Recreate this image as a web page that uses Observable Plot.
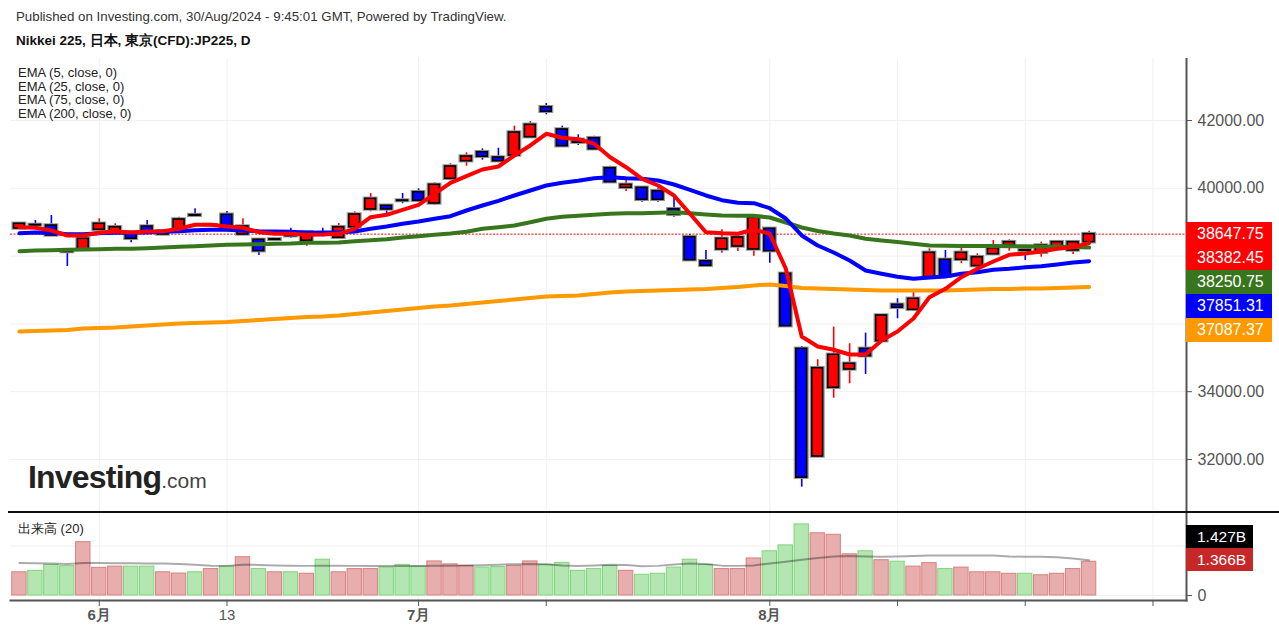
<!DOCTYPE html>
<html><head><meta charset="utf-8">
<script src="https://cdn.jsdelivr.net/npm/d3@7"></script>
<script src="https://cdn.jsdelivr.net/npm/@observablehq/plot@0.6"></script>
<style>
body{margin:0;background:#fff;}
#root{position:relative;width:1279px;height:634px;overflow:hidden;font-family:"Liberation Sans",Arial,sans-serif;color:#222;}
.abs{position:absolute;white-space:nowrap;}
.badge{position:absolute;left:1186px;width:86px;height:24px;line-height:24px;color:#fff;font-size:16px;padding-left:11px;box-sizing:border-box;}
.vbadge{position:absolute;left:1186px;width:67px;height:23px;line-height:23px;color:#fff;font-size:15.5px;padding-left:11px;box-sizing:border-box;}
</style></head><body>
<div id="root">
<div class="abs" style="left:16px;top:9px;font-size:13.3px;color:#333;">Published on Investing.com, 30/Aug/2024 - 9:45:01 GMT, Powered by TradingView.</div>
<div class="abs" style="left:16px;top:32px;font-size:13.5px;font-weight:bold;color:#111;">Nikkei 225, 日本, 東京(CFD):JP225, D</div>
<div id="price" class="abs" style="left:0;top:58px;"></div>
<div id="vol" class="abs" style="left:0;top:512px;"></div>
<div class="abs" style="left:8px;top:511px;width:1271px;height:2px;background:#111;"></div>
<div class="abs" style="left:18px;top:66px;font-size:13px;line-height:13.6px;color:#222;" id="legend"></div>
<div class="abs" style="left:18px;top:520px;font-size:13px;color:#222;">出来高 (20)</div>
<div class="abs" style="left:28px;top:459px;color:#222;"><span style="font-size:32px;font-weight:bold;letter-spacing:-0.8px;">Investing</span><span style="font-size:21px;color:#444;">.com</span></div>
<div id="badges"></div>
</div>
<script>
const dates = ["05-27","05-28","05-29","05-30","05-31","06-03","06-04","06-05","06-06","06-07","06-10","06-11","06-12","06-13","06-14","06-17","06-18","06-19","06-20","06-21","06-24","06-25","06-26","06-27","06-28","07-01","07-02","07-03","07-04","07-05","07-08","07-09","07-10","07-11","07-12","07-16","07-17","07-18","07-19","07-22","07-23","07-24","07-25","07-26","07-29","07-30","07-31","08-01","08-02","08-05","08-06","08-07","08-08","08-09","08-13","08-14","08-15","08-16","08-19","08-20","08-21","08-22","08-23","08-26","08-27","08-28","08-29","08-30"];
const open  = [38814,38920,38902,38150,38186,38776,38725,38687,38873,38637,38725,39210,38915,39218,38637,38481,38480,38687,38451,38655,38540,38852,39375,39484,39640,39885,39552,40280,40799,41065,40909,40968,41508,42392,41735,41430,41478,40593,40015,40015,39915,39384,38557,37849,38195,38283,38195,38805,37478,35265,32088,34115,34655,35265,35490,36564,36416,37360,37891,37891,37705,38056,38313,38175,38097,38244,38165,38411];
const high  = [38965,39050,39197,38215,38515,39100,38953,38700,39050,38750,39147,39395,38930,39315,39100,38490,38500,38823,38715,38823,38962,39306,39846,39495,39846,39985,40162,40723,41047,41165,41183,41832,41970,42501,41832,41578,41537,40652,40280,40030,39985,39738,38630,38165,38776,38570,39227,38830,37500,35333,34941,35906,35414,35729,36260,36741,36938,38215,38165,38283,38067,38460,38480,38244,38411,38430,38420,38735];
const low   = [38776,38852,38578,37693,38135,38760,38715,38392,38690,38620,38715,39180,38895,38760,38625,38017,38430,38528,38292,38569,38490,38840,39306,39236,39543,39590,39492,40221,40652,40829,40790,40950,41500,42168,41230,41262,41140,40170,39906,39590,39590,39147,37870,37700,38087,38135,37997,37791,35900,31183,32050,33808,34232,34507,35480,36151,36400,37350,37380,37775,37598,38040,38145,37870,37968,38230,38047,38400];
const close = [38953,38905,38607,38120,38510,38953,38852,38510,38705,38734,39080,39190,38910,38776,38873,38145,38495,38587,38705,38640,38852,39227,39690,39375,39625,39631,40103,40643,40938,40929,40799,41646,41873,42257,41242,41345,41153,40180,40103,39661,39661,39218,37879,37714,38510,38549,39130,38145,35932,31463,34693,35088,34824,35047,36248,36476,36741,38097,37398,38097,37968,38233,38411,38160,38313,38411,38411,38647.75];
const ema5   = [38852,38835,38755,38608,38608,38687,38726,38696,38726,38734,38805,38923,38923,38873,38835,38705,38658,38658,38628,38637,38658,38805,39147,39218,39366,39513,39838,40162,40357,40555,40643,40968,41263,41608,41490,41449,41313,40917,40622,40280,40083,39788,39248,38705,38675,38658,38785,38658,37634,35628,35333,35236,35097,35097,35510,35776,36159,36787,37035,37377,37625,37840,38038,38077,38136,38215,38262,38382.45];
const ema25  = [38675,38696,38687,38646,38646,38675,38687,38687,38696,38717,38734,38764,38776,38776,38755,38734,38726,38717,38687,38696,38705,38726,38805,38873,38953,39021,39100,39177,39345,39493,39631,39788,39935,40083,40162,40221,40298,40327,40298,40280,40230,40112,39956,39788,39649,39572,39560,39413,39109,38608,38313,38106,37870,37575,37478,37389,37330,37369,37398,37478,37525,37596,37625,37672,37702,37752,37811,37851.31];
const ema75  = [38144,38165,38174,38186,38195,38203,38215,38215,38233,38254,38274,38292,38313,38333,38342,38351,38363,38372,38392,38392,38401,38439,38469,38498,38549,38587,38628,38667,38717,38805,38852,38903,39000,39100,39159,39189,39218,39248,39265,39265,39277,39295,39265,39227,39198,39189,39189,39139,38991,38844,38740,38667,38608,38510,38460,38416,38363,38313,38304,38298,38298,38298,38292,38289,38283,38277,38269,38250.75];
const ema200 = [35776,35790,35805,35820,35864,35879,35894,35923,35953,35982,36012,36026,36041,36056,36085,36115,36144,36174,36203,36218,36248,36292,36336,36380,36425,36469,36513,36543,36587,36631,36675,36720,36764,36808,36823,36838,36882,36926,36956,36970,36985,37000,37015,37029,37059,37088,37133,37162,37118,37059,37044,37029,37015,37000,36985,36985,36985,36985,36985,37000,37015,37029,37029,37044,37044,37059,37074,37087.37];
// volume in billions; volume colour flag (1 = red, 0 = green)
const volume = [0.94,1.00,1.24,1.19,2.16,1.12,1.17,1.17,1.17,0.94,0.89,0.94,1.07,1.17,1.55,1.07,0.94,0.94,0.88,1.45,0.94,1.07,1.07,1.13,1.24,1.17,1.38,1.26,1.20,1.13,1.15,1.20,1.38,1.24,1.32,1.00,1.07,1.20,1.00,0.84,0.88,1.13,1.45,1.24,1.07,1.07,1.50,1.79,2.03,2.88,2.52,2.46,1.67,1.79,1.43,1.37,1.17,1.31,1.07,1.13,0.94,0.94,0.88,0.88,0.82,0.88,1.07,1.366];
const volRed = [1,0,0,0,1,1,1,0,0,1,1,0,1,0,1,0,1,0,1,0,1,1,1,0,0,0,1,1,1,0,0,1,1,0,0,0,0,0,1,0,0,0,0,0,1,1,1,0,0,0,1,1,1,0,1,0,1,1,0,1,1,1,1,0,1,1,1,1];
const volMA = [1.32,1.31,1.30,1.28,1.32,1.32,1.31,1.31,1.30,1.30,1.28,1.25,1.21,1.20,1.25,1.24,1.22,1.21,1.20,1.21,1.21,1.20,1.20,1.20,1.20,1.20,1.21,1.21,1.22,1.23,1.25,1.27,1.28,1.27,1.22,1.19,1.22,1.25,1.24,1.18,1.20,1.26,1.30,1.28,1.21,1.20,1.22,1.30,1.37,1.45,1.52,1.58,1.60,1.58,1.57,1.58,1.60,1.62,1.62,1.62,1.62,1.62,1.58,1.57,1.57,1.55,1.50,1.427];
const priceTicks = [32000,34000,36000,38000,40000,42000];
const priceLabelTicks = [32000,34000,40000,42000];
const xTicks = [5,13,25,33,47,55,63,71];
const monthLabels = [{i:5,t:"6月"},{i:25,t:"7月"},{i:47,t:"8月"}];
const dayLabels = [{i:13,t:"13"}];
const emaNames = ["EMA (5, close, 0)","EMA (25, close, 0)","EMA (75, close, 0)","EMA (200, close, 0)"];
const colors = {up:"#ff0000", down:"#0000ff", e5:"#ff0000", e25:"#0000ff", e75:"#38761d", e200:"#ff9900"};

const xDomain = [-0.56, 73.1];
const W = 1279, ML = 10, MR = 93;

const candles = dates.map((d,i)=>({i, d, o:open[i], h:high[i], l:low[i], c:close[i], up: close[i] > open[i]}));
const series = (arr)=>arr.map((v,i)=>({i, v}));
const last = candles.length - 1;

document.getElementById("legend").innerHTML = emaNames.map(s=>`<div>${s}</div>`).join("");

const pricePlot = Plot.plot({
  width: W, height: 454,
  marginLeft: ML, marginRight: MR, marginTop: 0, marginBottom: 0,
  x: {domain: xDomain, axis: null, label: null},
  y: {domain: [30436, 43829], axis: null, label: null},
  color: {type: "identity"},
  style: {fontFamily: "'Liberation Sans', Arial, sans-serif", fontSize: "16px", color: "#555", background: "transparent"},
  marks: [
    Plot.ruleY(priceTicks, {stroke: "#f0f0f0", strokeWidth: 1}),
    Plot.ruleX(xTicks, {stroke: "#f0f0f0", strokeWidth: 1}),
    Plot.axisY({anchor: "right", label: null, ticks: priceLabelTicks, tickFormat: d => d.toFixed(2), tickSize: 5, tickPadding: 6, stroke: "#555", fill: "#555", fontSize: 16}),
    Plot.frame({anchor: "right", stroke: "#555", strokeWidth: 2}),
    Plot.ruleY([close[last]], {stroke: "#ff0000", strokeWidth: 1, strokeDasharray: "2,1.5"}),
    Plot.ruleX(candles, {x: "i", y1: "l", y2: "h", stroke: d => d.up ? colors.up : colors.down, strokeWidth: 1.6}),
    Plot.rect(candles, {x1: d => d.i - 0.36, x2: d => d.i + 0.36, y1: "o", y2: "c", fill: "none", stroke: "#999", strokeWidth: 3.5}),
    Plot.rect(candles, {x1: d => d.i - 0.34, x2: d => d.i + 0.34, y1: "o", y2: "c", fill: d => d.up ? colors.up : colors.down, stroke: "#000", strokeWidth: 1.6}),
    Plot.line(series(ema200), {x: "i", y: "v", stroke: colors.e200, strokeWidth: 4, strokeLinejoin: "round"}),
    Plot.line(series(ema75), {x: "i", y: "v", stroke: colors.e75, strokeWidth: 4, strokeLinejoin: "round"}),
    Plot.line(series(ema25), {x: "i", y: "v", stroke: colors.e25, strokeWidth: 4, strokeLinejoin: "round"}),
    Plot.line(series(ema5), {x: "i", y: "v", stroke: colors.e5, strokeWidth: 4, strokeLinejoin: "round"})
  ]
});
document.getElementById("price").appendChild(pricePlot);

const vols = volume.map((v,i)=>({i, v, red: volRed[i] === 1}));
const volPlot = Plot.plot({
  width: W, height: 122,
  marginLeft: ML, marginRight: MR, marginTop: 0, marginBottom: 34,
  x: {domain: xDomain, axis: null, label: null},
  y: {domain: [-0.2025, 3.362], axis: null, label: null},
  color: {type: "identity"},
  style: {fontFamily: "'Liberation Sans', Arial, sans-serif", fontSize: "16px", color: "#555", background: "transparent"},
  marks: [
    Plot.ruleY([0, 2], {stroke: "#f0f0f0", strokeWidth: 1}),
    Plot.ruleX(xTicks, {stroke: "#f0f0f0", strokeWidth: 1}),
    Plot.rect(vols, {x1: d => d.i - 0.45, x2: d => d.i + 0.45, y1: 0, y2: "v", fill: d => d.red ? "#e8adad" : "#b3e6b0", stroke: d => d.red ? "#d98080" : "#80d47d", strokeWidth: 1}),
    Plot.line(series(volMA), {x: "i", y: "v", stroke: "#000", strokeOpacity: 0.33, strokeWidth: 2}),
    Plot.axisY({anchor: "right", label: null, ticks: [0], tickFormat: d => String(d), tickSize: 5, tickPadding: 6, stroke: "#555", fill: "#555", fontSize: 16}),
    Plot.axisX({anchor: "bottom", label: null, ticks: xTicks, tickFormat: () => "", tickSize: 6, stroke: "#555"}),
    Plot.text(monthLabels, {x: "i", text: "t", frameAnchor: "bottom", dy: 19, fontWeight: "bold", fill: "#555", fontSize: 15}),
    Plot.text(dayLabels, {x: "i", text: "t", frameAnchor: "bottom", dy: 19, fill: "#555", fontSize: 15}),
    Plot.frame({anchor: "bottom", stroke: "#555", strokeWidth: 2}),
    Plot.frame({anchor: "right", stroke: "#555", strokeWidth: 2})
  ]
});
document.getElementById("vol").appendChild(volPlot);

// price badges
const ys = pricePlot.scale("y");
const badgeTop0 = 58 + ys.apply(close[last]) - 12;
const badgeItems = [
  {v: close[last], bg: colors.up},
  {v: ema5[last], bg: colors.e5},
  {v: ema75[last], bg: colors.e75},
  {v: ema25[last], bg: colors.e25},
  {v: ema200[last], bg: colors.e200}
];
const bd = document.getElementById("badges");
badgeItems.forEach((b,k)=>{
  const el = document.createElement("div");
  el.className = "badge";
  el.style.top = (badgeTop0 + k*24) + "px";
  el.style.background = b.bg;
  el.textContent = b.v.toFixed(2);
  bd.appendChild(el);
});
const vs = volPlot.scale("y");
const redTop = 512 + vs.apply(volume[last]) - 13.5;
[{v: volMA[last], bg: "#000", top: redTop - 23}, {v: volume[last], bg: "#c62828", top: redTop}].forEach(b=>{
  const el = document.createElement("div");
  el.className = "vbadge";
  el.style.top = b.top + "px";
  el.style.background = b.bg;
  el.textContent = b.v.toFixed(3) + "B";
  bd.appendChild(el);
});
</script>
</body></html>
